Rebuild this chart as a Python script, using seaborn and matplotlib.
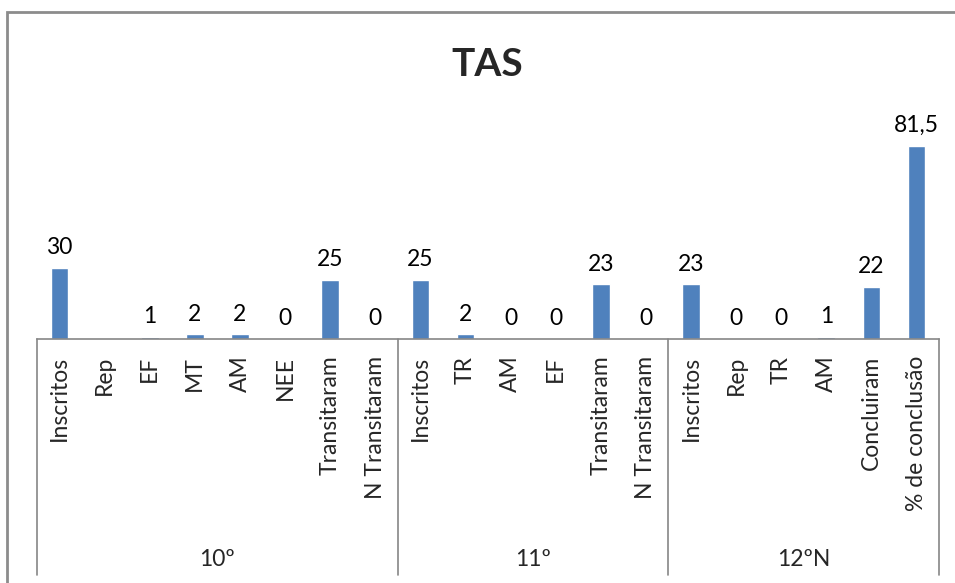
import numpy as np
import pandas as pd
import seaborn as sns
import matplotlib.pyplot as plt
from matplotlib.patches import Rectangle
import matplotlib.transforms as mtransforms

# groups and sub-categories (multi-level axis)
groups = ["10º", "11º", "12ºN"]
cats_10 = ["Inscritos", "Rep", "EF", "MT", "AM", "NEE", "Transitaram", "N Transitaram"]
cats_11 = ["Inscritos", "TR", "AM", "EF", "Transitaram", "N Transitaram"]
cats_12 = ["Inscritos", "Rep", "TR", "AM", "Concluiram", "% de conclusão"]

vals_10 = [30, np.nan, 1, 2, 2, 0, 25, 0]
vals_11 = [25, 2, 0, 0, 23, 0]
vals_12 = [23, 0, 0, 1, 22, 81.5]

all_cats = cats_10 + cats_11 + cats_12
all_vals = vals_10 + vals_11 + vals_12
group_sizes = [len(cats_10), len(cats_11), len(cats_12)]

df = pd.DataFrame({"pos": range(len(all_cats)), "cat": all_cats, "valor": all_vals})

sns.set_style("white")
plt.rcParams["font.family"] = ["Lato", "DejaVu Sans"]
fs = 16.5

fig = plt.figure(figsize=(9.55, 5.83), dpi=100)
ax = fig.add_axes([37 / 955, 1 - 339 / 583, (939 - 37) / 955, 237 / 583])

sns.barplot(data=df, x="pos", y="valor", color="#4F81BD", saturation=1,
            width=0.39, ax=ax, errorbar=None)
ax.set_ylim(0, 100)
ax.set_xlim(-0.5, len(all_cats) - 0.5)

# value labels
for i, v in enumerate(all_vals):
    if np.isnan(v):
        continue
    txt = f"{v:g}".replace(".", ",")
    ax.annotate(txt, (i, v), xytext=(0, 7), textcoords="offset points",
                ha="center", va="bottom", fontsize=fs, color="black")

ax.set_xticks(range(len(all_cats)))
ax.set_xticklabels(all_cats, rotation=90, va="top", ha="center", fontsize=fs)
ax.tick_params(axis="x", length=0, pad=12)
ax.set_yticks([])
ax.set_xlabel("")
ax.set_ylabel("")
for s in ["left", "right", "top"]:
    ax.spines[s].set_visible(False)
ax.spines["bottom"].set_color("#868686")
ax.spines["bottom"].set_linewidth(1.2)

# group separators and group labels
trans = mtransforms.blended_transform_factory(ax.transData, ax.transAxes)
edges = np.concatenate([[0], np.cumsum(group_sizes)]) - 0.5
for e in edges:
    ax.plot([e, e], [0, -0.996], transform=trans, color="#868686", lw=1.2, clip_on=False)
for g, a, b in zip(groups, edges[:-1], edges[1:]):
    ax.text((a + b) / 2, -0.932, g, transform=trans, ha="center", va="center", fontsize=fs)

# title
fig.text(487 / 955, 1 - 65 / 583, "TAS", ha="center", va="center",
         fontsize=28, fontweight="bold")

# chart frame
fig.patches.append(Rectangle((7 / 955, -0.2), 1.2, 1 - 12 / 583 + 0.2,
                             transform=fig.transFigure, fill=False,
                             edgecolor="#8C8C8C", lw=2))

fig.savefig("out.png", dpi=100)
